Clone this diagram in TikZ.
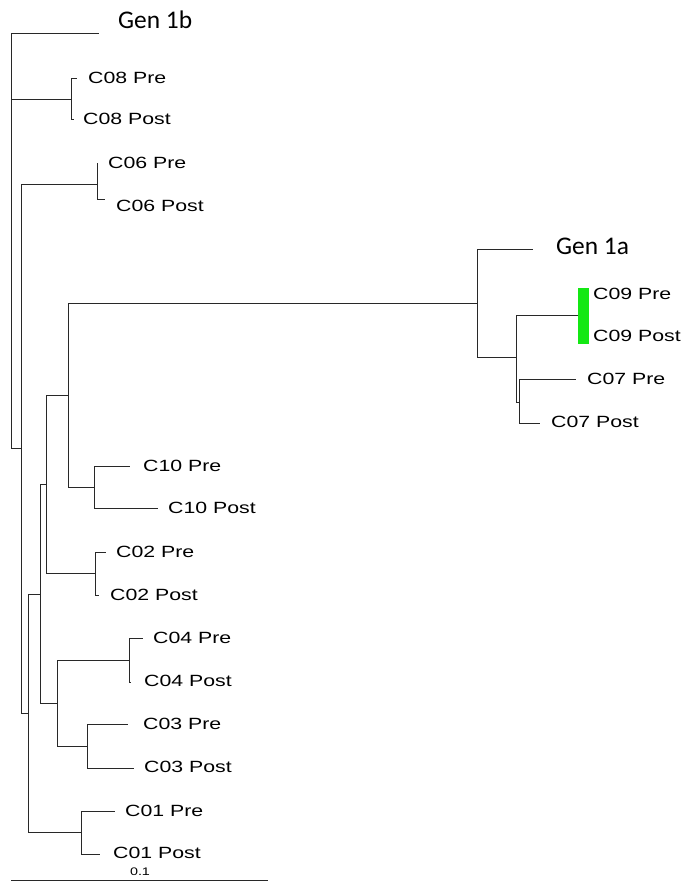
\documentclass[tikz,border=0pt]{standalone}
\usepackage{fontspec}
\usepackage{tikz}
\usetikzlibrary{positioning}
\newfontfamily\leaffont[FakeStretch=1.31]{Liberation Sans}
\newfontfamily\genfont{Carlito}
\definecolor{branchgray}{RGB}{40,40,40}
\definecolor{hlgreen}{RGB}{20,232,20}
\tikzset{
  branch/.style={draw=branchgray, line width=0.9bp},
  leaf/.style={anchor=west, inner sep=0pt, font=\leaffont\fontsize{16.3}{18}\selectfont},
  genlabel/.style={anchor=west, inner sep=0pt, font=\genfont\fontsize{25.5}{28}\selectfont},
  scalelabel/.style={inner sep=0pt, font=\leaffont\fontsize{11}{12}\selectfont}
}

\begin{document}
\begin{tikzpicture}[x=1bp, y=-1bp]
    \useasboundingbox (0,0) rectangle (684,892);

    % internal nodes
    \coordinate (root) at (11,448);
    \coordinate (n21) at (21,448);
    \coordinate (n28) at (28,713);
    \coordinate (n40) at (40,594);
    \coordinate (n46) at (46,484);
    \coordinate (n57) at (57,703);
    \coordinate (n68) at (68,395);
    \coordinate (n477) at (477,303);
    \coordinate (n516) at (516,357);

    % pair nodes
    \coordinate (c08) at (71,99);
    \coordinate (c06) at (97,184);
    \coordinate (c10) at (94,487);
    \coordinate (c02) at (95,573);
    \coordinate (c04) at (129,660);
    \coordinate (c03) at (87,746);
    \coordinate (c01) at (81,832);
    \coordinate (c07) at (519,402);
    \coordinate (c09) at (578,315);

    % tips
    \coordinate (gen1b) at (99,33);
    \coordinate (gen1a) at (533,249);
    \coordinate (c08pre) at (77,78);   \coordinate (c08post) at (74,119);
    \coordinate (c06pre) at (98,163);  \coordinate (c06post) at (105,199);
    \coordinate (c10pre) at (130,466); \coordinate (c10post) at (158,508);
    \coordinate (c02pre) at (106,552); \coordinate (c02post) at (99,595);
    \coordinate (c04pre) at (143,638); \coordinate (c04post) at (131,682);
    \coordinate (c03pre) at (128,724); \coordinate (c03post) at (134,768);
    \coordinate (c01pre) at (115,811); \coordinate (c01post) at (100,854);
    \coordinate (c07pre) at (576,379); \coordinate (c07post) at (540,423);

    % backbone
    \draw[branch] (root) |- (gen1b);
    \draw[branch] (root) |- (c08);
    \draw[branch] (root) -- (n21);
    \draw[branch] (n21) |- (c06);
    \draw[branch] (n21) |- (n28);
    \draw[branch] (n28) |- (n40);
    \draw[branch] (n28) |- (c01);
    \draw[branch] (n40) |- (n46);
    \draw[branch] (n40) |- (n57);
    \draw[branch] (n46) |- (n68);
    \draw[branch] (n46) |- (c02);
    \draw[branch] (n57) |- (c04);
    \draw[branch] (n57) |- (c03);
    \draw[branch] (n68) |- (n477);
    \draw[branch] (n68) |- (c10);
    \draw[branch] (n477) |- (gen1a);
    \draw[branch] (n477) |- (n516);
    \draw[branch] (n516) |- (c09);
    \draw[branch] (n516) |- (c07);

    % Pre / Post pairs
    \foreach \p in {c08,c06,c10,c02,c04,c03,c01,c07}{
      \draw[branch] (\p) |- (\p pre);
      \draw[branch] (\p) |- (\p post);
    }

    % C09 highlight
    \fill[hlgreen] (578,288) rectangle (589,344);

    % labels
    \node[genlabel] (lgen1b) at (118,20) {Gen 1b};
    \node[genlabel] (lgen1a) at (556,246) {Gen 1a};
    \node[leaf] (lc08pre) at (88,78) {C08 Pre};
    \node[leaf] (lc08post) at (83,119) {C08 Post};
    \node[leaf] (lc06pre) at (108,163) {C06 Pre};
    \node[leaf] (lc06post) at (116,206) {C06 Post};
    \node[leaf] (lc09pre) at (593,294) {C09 Pre};
    \node[leaf] (lc09post) at (593,336) {C09 Post};
    \node[leaf] (lc07pre) at (587,379) {C07 Pre};
    \node[leaf] (lc07post) at (551,422) {C07 Post};
    \node[leaf] (lc10pre) at (143,466) {C10 Pre};
    \node[leaf] (lc10post) at (168,508) {C10 Post};
    \node[leaf] (lc02pre) at (116,552) {C02 Pre};
    \node[leaf] (lc02post) at (110,595) {C02 Post};
    \node[leaf] (lc04pre) at (153,638) {C04 Pre};
    \node[leaf] (lc04post) at (144,681) {C04 Post};
    \node[leaf] (lc03pre) at (143,724) {C03 Pre};
    \node[leaf] (lc03post) at (144,767) {C03 Post};
    \node[leaf] (lc01pre) at (125,811) {C01 Pre};
    \node[leaf] (lc01post) at (113,853) {C01 Post};

    % scale bar
    \coordinate (sbl) at (11,880);
    \coordinate (sbr) at (268,880);
    \draw[branch] (sbl) -- (sbr);
    \node[scalelabel] (sblabel) at (140,872) {0.1};
\end{tikzpicture}
\end{document}
